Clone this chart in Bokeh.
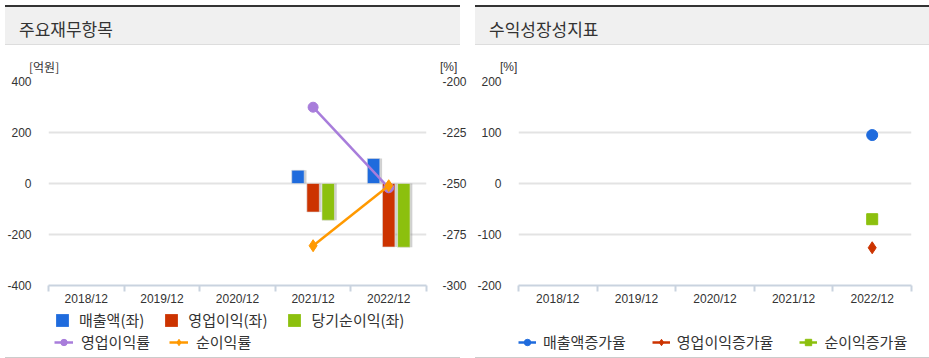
import numpy as np
from bokeh.plotting import figure
from bokeh.models import (Range1d, LinearAxis, FixedTicker, Legend, LegendItem,
                          Div, ColumnDataSource)
from bokeh.transform import dodge
from bokeh.layouts import row, column
from bokeh.embed import file_html
from bokeh.resources import INLINE

nan = np.nan
years = ["2018/12", "2019/12", "2020/12", "2021/12", "2022/12"]
sales = [nan, nan, nan, 52, 98]
op_income = [nan, nan, nan, -112, -249]
net_income = [nan, nan, nan, -144, -250]
op_margin = [nan, nan, nan, -212.6, -252.1]
net_margin = [nan, nan, nan, -280.5, -251.1]
sales_growth = [nan, nan, nan, nan, 95]
op_growth = [nan, nan, nan, nan, -126]
net_growth = [nan, nan, nan, nan, -70]
left_ticks = [-400, -200, 0, 200, 400]
pct_ticks = [-300, -275, -250, -225, -200]
growth_ticks = [-200, -100, 0, 100, 200]

KR = "Noto Sans CJK KR"
NUM = "Liberation Sans"
BLUE, RED, GREEN = "#1f6bdd", "#cc3300", "#8cc00e"
PURPLE, ORANGE = "#a87ddb", "#ff9900"
TXT = "#333333"

idx = list(range(len(years)))
src = ColumnDataSource(dict(x=idx, sales=sales, op=op_income, net=net_income,
                            opm=op_margin, netm=net_margin, sg=sales_growth,
                            og=op_growth, ng=net_growth, zero=[0] * len(idx)))
# placeholder (one NaN row, draws nothing) so the legend canvases can draw their swatches
swatch = ColumnDataSource(dict(x=[nan], y=[nan]))


def style_axis_y(ax, ticks, standoff):
    ax.ticker = FixedTicker(ticks=ticks)
    ax.major_label_overrides = {t: str(t) for t in ticks}
    ax.axis_line_color = None
    ax.major_tick_line_color = None
    ax.minor_tick_line_color = None
    ax.major_label_standoff = standoff
    ax.major_label_text_font = NUM
    ax.major_label_text_font_size = "12px"
    ax.major_label_text_color = TXT


def style_common(p, ticks):
    p.outline_line_color = None
    p.background_fill_color = "white"
    p.border_fill_color = "white"
    p.xgrid.visible = False
    p.ygrid.ticker = FixedTicker(ticks=ticks)
    p.ygrid.grid_line_color = "#e3e3e3"
    p.ygrid.grid_line_width = 2
    style_axis_y(p.yaxis[0], ticks, 11)
    xax = p.xaxis[0]
    xax.ticker = FixedTicker(ticks=idx, minor_ticks=[i - 0.5 for i in idx] + [idx[-1] + 0.5])
    xax.major_label_overrides = {i: y for i, y in zip(idx, years)}
    xax.axis_line_color = "#c9d3df"
    xax.axis_line_width = 2
    xax.major_tick_line_color = None
    xax.major_tick_out = 0
    xax.major_tick_in = 0
    xax.minor_tick_line_color = "#c9d3df"
    xax.minor_tick_line_width = 2
    xax.minor_tick_out = 6
    xax.minor_tick_in = 0
    xax.major_label_standoff = 0
    xax.major_label_text_font = NUM
    xax.major_label_text_font_size = "12px"
    xax.major_label_text_color = TXT


def make_fig(fw, y0, y1, rb):
    return figure(width=None, height=None, frame_width=fw, frame_height=204,
                  min_border_left=48, min_border_top=7, min_border_right=rb,
                  min_border_bottom=20, x_range=Range1d(-0.5, 4.5),
                  y_range=Range1d(y0, y1), output_backend="svg", toolbar_location=None)


def legend_fig(fw, rb):
    lf = figure(width=None, height=None, frame_width=fw, frame_height=44,
                min_border_left=48, min_border_right=rb, min_border_top=0,
                min_border_bottom=0, x_range=Range1d(0, 1), y_range=Range1d(0, 1),
                x_axis_type=None, y_axis_type=None,
                output_backend="svg", toolbar_location=None)
    lf.grid.visible = False
    lf.outline_line_color = None
    return lf


def make_legend(items, loc, gw, standoff, spacing):
    return Legend(items=items, orientation="horizontal", location=loc,
                  glyph_width=gw, glyph_height=16, label_height=20,
                  label_standoff=standoff, spacing=spacing,
                  padding=0, margin=0, border_line_color=None,
                  background_fill_alpha=0, label_text_font=KR,
                  label_text_font_size="15px", label_text_color=TXT)


# ---------------- left panel ----------------
p1 = make_fig(378, -400, 400, 10)
p1.extra_y_ranges = {"pct": Range1d(-300, -200)}
style_common(p1, left_ticks)
rax = LinearAxis(y_range_name="pct")
style_axis_y(rax, pct_ticks, 10)
p1.add_layout(rax, "right")

bw = 0.165
bar_cols = [("sales", -0.2, BLUE), ("op", 0.0, RED), ("net", 0.2, GREEN)]
for col, off, colr in bar_cols:
    p1.vbar(x=dodge("x", off + 0.03, range=p1.x_range), top=col, bottom="zero", width=bw,
            source=src, fill_color="#777777", fill_alpha=0.35, line_color=None)
    p1.vbar(x=dodge("x", off, range=p1.x_range), top=col, bottom="zero", width=bw,
            source=src, fill_color=colr, line_color="#dddddd", line_alpha=0.6,
            line_width=1)

p1.line("x", "opm", source=src, y_range_name="pct", line_color=PURPLE, line_width=2.5)
p1.scatter("x", "opm", source=src, y_range_name="pct", marker="circle", size=10,
           fill_color=PURPLE, line_color=PURPLE)
p1.line("x", "netm", source=src, y_range_name="pct", line_color=ORANGE, line_width=2.5)
p1.scatter("x", "netm", source=src, y_range_name="pct", marker="diamond", size=12,
           fill_color=ORANGE, line_color=ORANGE)

# legend for left panel (separate legend canvas, frame aligned with the chart's frame)
lf1 = legend_fig(378, 34)
leg_bars = [lf1.vbar(x="x", top="y", width=0.1, source=swatch, fill_color=c, line_color=None)
            for _, _, c in bar_cols]
lm1 = [lf1.line("x", "y", source=swatch, line_color=PURPLE, line_width=2.5),
       lf1.scatter("x", "y", source=swatch, marker="circle", size=10, fill_color=PURPLE,
                   line_color=PURPLE)]
lm2 = [lf1.line("x", "y", source=swatch, line_color=ORANGE, line_width=2.5),
       lf1.scatter("x", "y", source=swatch, marker="diamond", size=12, fill_color=ORANGE,
                   line_color=ORANGE)]
leg1 = make_legend([LegendItem(label="매출액(좌)", renderers=[leg_bars[0]]),
                    LegendItem(label="영업이익(좌)", renderers=[leg_bars[1]]),
                    LegendItem(label="당기순이익(좌)", renderers=[leg_bars[2]])],
                   (6, 22), 16, 9, 19)
leg2 = make_legend([LegendItem(label="영업이익률", renderers=lm1),
                    LegendItem(label="순이익률", renderers=lm2)], (6, 0), 19, 8, 19)
lf1.add_layout(leg1)
lf1.add_layout(leg2)

# ---------------- right panel ----------------
p2 = make_fig(393, -200, 200, 14)
style_common(p2, growth_ticks)
g_specs = [("sg", "circle", BLUE, "매출액증가율", 11),
           ("og", "diamond", RED, "영업이익증가율", 12),
           ("ng", "square", GREEN, "순이익증가율", 11)]
for col, mk, colr, lab, sz in g_specs:
    p2.scatter("x", col, source=src, marker=mk, size=sz, fill_color=colr, line_color=colr)

lf2 = legend_fig(393, 14)
g_items = []
for col, mk, colr, lab, sz in g_specs:
    lr = lf2.line("x", "y", source=swatch, line_color=colr, line_width=2.5)
    sr = lf2.scatter("x", "y", source=swatch, marker=mk, size=sz, fill_color=colr,
                     line_color=colr)
    g_items.append(LegendItem(label=lab, renderers=[lr, sr]))
leg3 = make_legend(g_items, (0, 0), 18, 7, 26)
lf2.add_layout(leg3)


def header(title, units):
    spans = "".join(
        f'<span style="position:absolute;left:{x}px;top:55px;font-family:{f};'
        f'font-size:12px;line-height:14px;color:#333333;white-space:nowrap">{t}</span>'
        for t, x, f in units)
    html = (
        '<div style="position:relative;width:455px;height:64px;">'
        '<div style="position:absolute;left:0;top:0;width:455px;height:40px;'
        'background:#f0f0f0;border-top:2px solid #333333;border-bottom:1px solid #dddddd;'
        'box-sizing:border-box;"></div>'
        f'<span style="position:absolute;left:14px;top:14px;font-family:\'{KR}\';'
        f'font-size:17px;line-height:20px;color:#333333;white-space:nowrap">{title}</span>'
        f'{spans}</div>')
    return Div(text=html, width=455, height=64)


def footer():
    return Div(text="", width=455, height=3, styles={"background-color": "#cccccc"})


KRq = f"'{KR}'"
NUMq = f"'{NUM}'"
left = column(header("주요재무항목", [("[억원]", 24, KRq), ("[%]", 435, NUMq)]), p1, lf1,
              footer())
right = column(header("수익성장성지표", [("[%]", 25, NUMq)]), p2, lf2, footer())
layout = row(left, right, spacing=1)

open("out.html", "w").write(file_html(layout, INLINE))
